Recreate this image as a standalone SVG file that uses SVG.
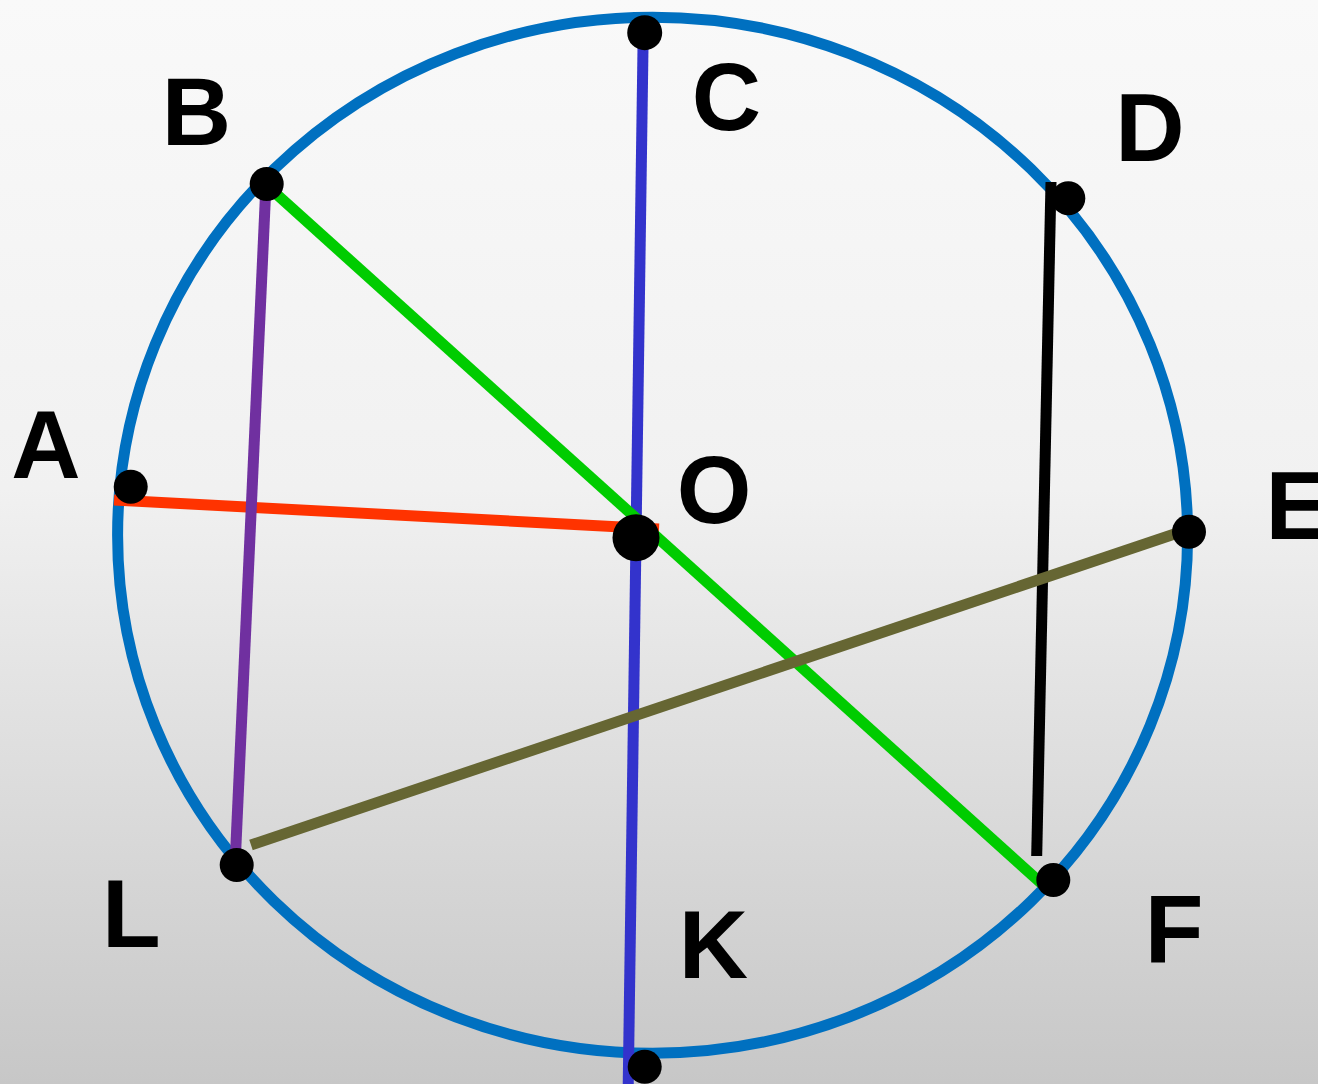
<svg xmlns="http://www.w3.org/2000/svg" width="1318" height="1084" viewBox="0 0 1318 1084">
  <defs>
    <linearGradient id="bg" x1="0" y1="0" x2="0" y2="1">
      <stop offset="0" stop-color="#f9f9f9"/>
      <stop offset="0.45" stop-color="#f1f1f1"/>
      <stop offset="1" stop-color="#c7c7c7"/>
    </linearGradient>
  </defs>
  <style>
    .dot { fill: #000; }
    .lbl { font-family: "Liberation Sans", Arial, sans-serif; font-weight: bold; font-size: 96px; fill: #000; text-anchor: middle; }
    .ln { stroke-width: 11; fill: none; stroke-linecap: butt; }
  </style>
  <rect x="0" y="0" width="1318" height="1084" fill="url(#bg)"/>
  <g id="circle">
    <ellipse cx="652.6" cy="535.2" rx="535" ry="518" fill="none" stroke="#0070c0" stroke-width="11"/>
  </g>
  <g id="connectors">
    <line class="ln" x1="643.2" y1="33" x2="628" y2="1100" stroke="#3333cc"/>
    <line class="ln" x1="114" y1="500" x2="659" y2="529" stroke="#ff3300"/>
    <line class="ln" x1="268" y1="186.5" x2="1042" y2="884" stroke="#00cc00"/>
    <line class="ln" x1="265.8" y1="188" x2="235.5" y2="855" stroke="#7030a0"/>
    <line class="ln" x1="1051" y1="182" x2="1036.7" y2="856" stroke="#000000"/>
    <line class="ln" x1="251" y1="845" x2="1176" y2="533.5" stroke="#666633"/>
  </g>
  <g id="node-A"><circle class="dot" cx="130.7" cy="486.7" r="17"/><text class="lbl" x="46" y="477.5">A</text></g>
  <g id="node-B"><circle class="dot" cx="266.7" cy="184" r="17"/><text class="lbl" x="196.5" y="145">B</text></g>
  <g id="node-C"><circle class="dot" cx="644.7" cy="32.7" r="17.5"/><text class="lbl" x="726.3" y="130">C</text></g>
  <g id="node-D"><circle class="dot" cx="1068.3" cy="198.3" r="17"/><text class="lbl" x="1150" y="160.5">D</text></g>
  <g id="node-E"><circle class="dot" cx="1189" cy="531.7" r="17"/><text class="lbl" x="1265.5" y="539" style="text-anchor:start">E</text></g>
  <g id="node-F"><circle class="dot" cx="1053.3" cy="880" r="17"/><text class="lbl" x="1174" y="961.5">F</text></g>
  <g id="node-K"><circle class="dot" cx="644.7" cy="1066.7" r="17"/><text class="lbl" x="713.3" y="978">K</text></g>
  <g id="node-L"><circle class="dot" cx="236.7" cy="865" r="17"/><text class="lbl" x="102" y="946.5" style="text-anchor:start">L</text></g>
  <g id="node-O"><circle class="dot" cx="636" cy="537.7" r="23.5"/><text class="lbl" x="714" y="523">O</text></g>
</svg>
